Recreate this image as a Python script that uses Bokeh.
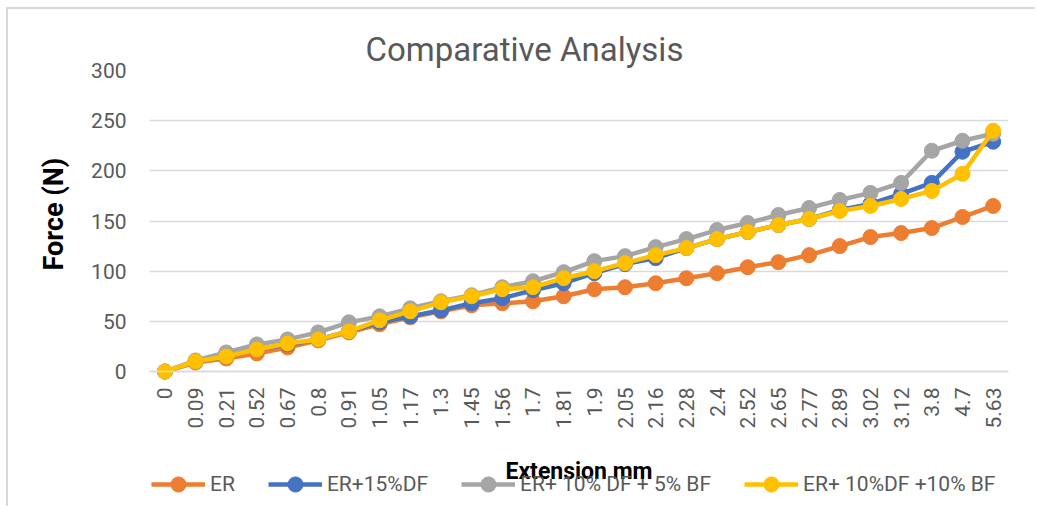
from bokeh.plotting import figure
from bokeh.models import Legend, LegendItem, Title, FactorRange, Range1d, FixedTicker
from bokeh.embed import file_html
from bokeh.resources import INLINE

categories = ["0", "0.09", "0.21", "0.52", "0.67", "0.8", "0.91", "1.05", "1.17", "1.3",
              "1.45", "1.56", "1.7", "1.81", "1.9", "2.05", "2.16", "2.28", "2.4", "2.52",
              "2.65", "2.77", "2.89", "3.02", "3.12", "3.8", "4.7", "5.63"]
er = [0, 9, 13, 18, 24, 31, 39, 47, 54, 60, 66, 68, 70, 75, 82, 84, 88, 93, 98, 104,
      109, 116, 125, 134, 138, 143, 154, 165]
er_15df = [0, 10, 15, 22, 27, 32, 40, 49, 55, 61, 68, 73, 81, 88, 98, 107, 113, 123, 132, 139,
           146, 152, 161, 167, 177, 188, 219, 229]
er_10df_5bf = [0, 11, 19, 27, 32, 39, 49, 55, 63, 70, 76, 84, 90, 99, 110, 115, 124, 132, 141, 148,
               156, 163, 171, 178, 188, 220, 230, 237]
er_10df_10bf = [0, 10, 15, 22, 28, 32, 40, 51, 60, 69, 75, 82, 84, 93, 100, 108, 116, 123, 132, 139,
                146, 152, 160, 165, 172, 180, 197, 240]
y_ticks = [0, 50, 100, 150, 200, 250, 300]

series = [
    ("ER", er, "#ED7D31"),
    ("ER+15%DF", er_15df, "#4472C4"),
    ("ER+ 10% DF + 5% BF", er_10df_5bf, "#A5A5A5"),
    ("ER+ 10%DF +10% BF", er_10df_10bf, "#FFC000"),
]

FONT = "Roboto"
GREY_TXT = "#595959"

# frame reaches the bottom of the canvas; the x axis is pinned at y = 0
p = figure(width=1029, height=499, output_backend="svg", toolbar_location=None,
           x_range=FactorRange(*categories, range_padding=0),
           y_range=Range1d(-136.5, 300),
           min_border_left=141, min_border_right=29, min_border_top=61, min_border_bottom=0)
p.styles = {"border-left": "2px solid #D9D9D9", "border-top": "2px solid #D9D9D9",
            "margin-left": "6px", "margin-top": "7px"}
p.outline_line_color = None
p.background_fill_alpha = 0
p.border_fill_alpha = 0

title = Title(text="Comparative Analysis", align="left", offset=216,
              text_font=FONT, text_font_size="33px", text_font_style="normal",
              text_color=GREY_TXT, standoff=4)
p.add_layout(title, "above")

p.xgrid.grid_line_color = None
p.ygrid.grid_line_color = "#D9D9D9"
p.ygrid.grid_line_width = 1.5
p.yaxis.ticker = FixedTicker(ticks=y_ticks)

p.xaxis.fixed_location = 0
p.xaxis.axis_line_color = "#D9D9D9"
p.xaxis.axis_line_width = 1.5
p.xaxis.major_tick_line_color = None
p.xaxis.minor_tick_line_color = None
p.xaxis.major_label_orientation = 1.5707963
p.xaxis.major_label_standoff = 10
p.xaxis.major_label_text_font = FONT
p.xaxis.major_label_text_font_size = "21px"
p.xaxis.major_label_text_color = GREY_TXT
p.xaxis.axis_label = "Extension mm"
p.xaxis.axis_label_text_font = FONT
p.xaxis.axis_label_text_font_size = "23px"
p.xaxis.axis_label_text_font_style = "bold"
p.xaxis.axis_label_text_color = "#000000"
p.xaxis.axis_label_standoff = 27

p.yaxis.axis_line_color = None
p.yaxis.major_tick_line_color = None
p.yaxis.minor_tick_line_color = None
p.yaxis.major_label_standoff = 17
p.yaxis.major_label_text_font = FONT
p.yaxis.major_label_text_font_size = "21px"
p.yaxis.major_label_text_color = GREY_TXT

ytitle = Title(text="Force (N)", align="left", offset=238,
               text_font=FONT, text_font_size="27px", text_font_style="bold",
               text_color="#000000", standoff=37)
p.add_layout(ytitle, "left")

items = []
for name, vals, color in series:
    ln = p.line(categories, vals, line_color=color, line_width=4.5)
    sc = p.scatter(categories, vals, size=15, fill_color=color, line_color=color)
    items.append(LegendItem(label=name, renderers=[ln, sc]))

lg = Legend(items=items, location=(2, 5), orientation="horizontal",
            padding=0, margin=0, spacing=33,
            glyph_width=54, glyph_height=38, label_height=38, label_standoff=5,
            label_text_font=FONT, label_text_font_size="21px",
            label_text_color=GREY_TXT,
            border_line_color=None, background_fill_alpha=0)
lg.level = "underlay"
p.add_layout(lg, "center")

open("out.html", "w").write(file_html(p, INLINE))
